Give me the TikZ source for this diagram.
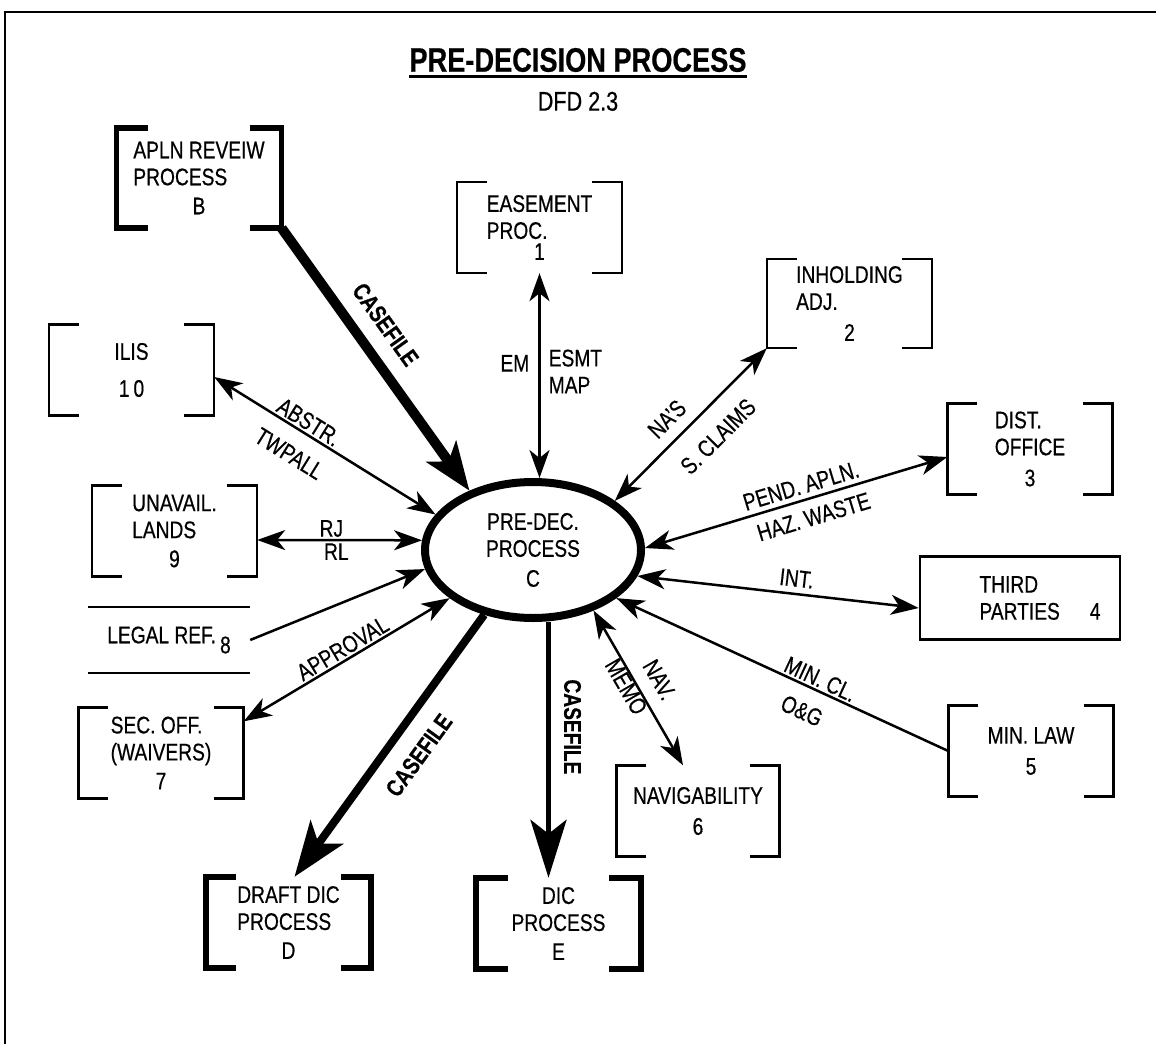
\documentclass[tikz,border=0pt]{standalone}
\usepackage{fontspec}
\setmainfont[FakeStretch=0.8, FakeBold=0.5]{Liberation Sans}
\usetikzlibrary{arrows.meta,positioning,shapes.geometric}

\newcommand{\dfdfont}{\fontsize{24}{27}\selectfont}
% bracket frame of an external entity: node, stub length
\newcommand{\brackets}[3][bk]{%
  \draw[#1] ([xshift=#3]#2.north west) -| (#2.south west) -- ++(#3,0);
  \draw[#1] ([xshift=-#3]#2.north east) -| (#2.south east) -- ++(-#3,0);}

\tikzset{
  box/.style={minimum width=165pt, minimum height=91pt, inner sep=0pt, align=left},
  bk/.style={line width=2.5pt},
  bkheavy/.style={line width=5.5pt},
  flow/.style={line width=2.5pt},
  tag/.style={inner sep=1pt},
  lab/.style={tag, sloped},
  heavy/.style={line width=10pt, -{Stealth[length=48pt,width=36pt,inset=12pt]}},
  heavyD/.style={line width=8pt, {Stealth[length=55pt,width=40pt,inset=14pt]}-},
  mid/.style={line width=5pt, -{Stealth[length=58pt,width=36pt,inset=14pt]}},
}

\begin{document}
\begin{tikzpicture}[x=1pt, y=-1pt, >={Stealth[length=28pt,width=20pt,inset=8pt]}, font=\dfdfont]
  \useasboundingbox (0,0) rectangle (1156,1044);
  % page frame
  \draw[line width=2.5pt] (5,1044) -- (5,12) -- (1156,12);

  % heading
  \node[font=\fontsize{34}{36}\selectfont\bfseries, inner sep=0pt] (title) at (578,60) {PRE-DECISION PROCESS};
  \draw[line width=3pt] ([yshift=-5pt]title.base west) -- ([yshift=-5pt]title.base east);
  \node[font=\fontsize{27}{29}\selectfont, below=16pt of title] (dfd) {DFD 2.3};

  % central process
  \node[draw, ellipse, line width=8pt, minimum width=216pt, minimum height=136pt, inner sep=0pt, align=center] (pre) at (533,550) {PRE-DEC.\\PROCESS\\[3pt]C};

  % entities round it
  \node[box, minimum height=100pt] (aplnB) at (199,178) {APLN REVEIW\\PROCESS\\[2pt]\hfil B};
  \node[box] (esmt1) at (539.5,227.5) {EASEMENT\\PROC.\\[-6pt]\hfil 1};
  \node[box, minimum height=89pt] (inhold2) at (849.5,303.5) {INHOLDING\\ADJ.\\[4pt]\hfil 2};
  \node[box] (dist3) at (1030,449) {DIST.\\OFFICE\\[4pt]\hfil 3};
  \node[box, draw, bk, minimum width=200pt, minimum height=83pt] (third4) at (1020,598) {\hspace*{40pt}THIRD\\\hspace*{40pt}PARTIES\hspace{30pt}4};
  \node[box] (minlaw5) at (1031,751) {MIN. LAW\\[4pt]\hfil 5};
  \node[box, minimum width=163pt] (navig6) at (698,811) {NAVIGABILITY\\[4pt]\hfil 6};
  \node[box] (secoff7) at (161,753) {SEC. OFF.\\(WAIVERS)\\[2pt]\hfil 7};
  \node[box, minimum width=162pt, minimum height=66pt] (legal8) at (169,640) {LEGAL REF.\,\raisebox{-10pt}{8}};
  \node[box] (unavail9) at (174.5,531) {UNAVAIL.\\LANDS\\[2pt]\hfil 9};
  \node[box, align=center] (ilis10) at (131.5,370) {ILIS\\[10pt]1\,0};
  \node[box] (draftD) at (288.5,922.5) {DRAFT DIC\\PROCESS\\[2pt]\hfil D};
  \node[box, align=center] (dicE) at (558.5,923.5) {DIC\\PROCESS\\[2pt]E};

  \brackets[bkheavy]{aplnB}{32pt}
  \brackets{esmt1}{30pt}
  \brackets{inhold2}{30pt}
  \brackets{dist3}{30pt}
  \brackets{minlaw5}{30pt}
  \brackets{navig6}{30pt}
  \brackets{secoff7}{30pt}
  \brackets{unavail9}{30pt}
  \brackets{ilis10}{30pt}
  \brackets[bkheavy]{draftD}{30pt}
  \brackets[bkheavy]{dicE}{32pt}
  \draw[bk] (legal8.north west) -- (legal8.north east);
  \draw[bk] (legal8.south west) -- (legal8.south east);

  % flows
  \draw[heavy] (aplnB.south east) -- (pre.137)
    node[lab, pos=0.43, above=14pt, font=\dfdfont\bfseries] (cf1) {CASEFILE};
  \draw[flow, <->] ([yshift=-7pt]ilis10.east) -- (pre.160)
    node[lab, pos=0.40, above=1pt] (abstr) {ABSTR.}
    node[lab, pos=0.40, below=15pt] (twpall) {TWPALL};
  \draw[flow, <->] (esmt1.south) -- (esmt1.south |- pre.north)
    node[tag, pos=0.44, left=8pt] (em) {EM}
    node[tag, pos=0.48, right=7pt, align=left] (esmtmap) {ESMT\\MAP};
  \draw[flow, <->] (pre.31) -- (inhold2.south west)
    node[lab, pos=0.44, above=10pt] (nas) {NA'S}
    node[lab, pos=0.55, below=17pt] (sclaims) {S. CLAIMS};
  \draw[flow, <->] (pre.1) -- ([yshift=-8pt]dist3.west)
    node[lab, pos=0.53, above=4pt] (pend) {PEND. APLN.}
    node[lab, pos=0.54, below=8pt] (haz) {HAZ. WASTE};
  \draw[flow, <->] (pre.-14) -- ([yshift=-10pt]third4.west)
    node[lab, pos=0.56, above=5pt] (int) {INT.};
  \draw[flow, <-] (pre.-30) -- (minlaw5.west)
    node[lab, pos=0.6, above=1pt] (mincl) {MIN. CL.}
    node[lab, pos=0.59, below=14pt] (og) {O\&G};
  \draw[flow, <->] (pre.-45) -- ([xshift=-15pt]navig6.north)
    node[lab, pos=0.52, above=12pt] (nav) {NAV.}
    node[lab, pos=0.46, below=-1pt] (memo) {MEMO};
  \draw[mid] ([xshift=-10pt]dicE.north |- pre.south) -- ([xshift=-10pt]dicE.north)
    node[tag, pos=0.41, xshift=24pt, rotate=-90, font=\dfdfont\bfseries] (cf3) {CASEFILE};
  \draw[heavyD] ([xshift=6pt]draftD.north) -- (pre.233)
    node[lab, pos=0.53, below=16pt, font=\dfdfont\bfseries] (cf2) {CASEFILE};
  \draw[flow, <->] ([yshift=-14pt]secoff7.north east) -- (pre.210)
    node[lab, pos=0.51, above=1pt] (appr) {APPROVAL};
  \draw[flow, ->] (legal8.east) -- (pre.190);
  \draw[flow, <->] ([yshift=-9pt]unavail9.east) -- (pre.175)
    node[tag, pos=0.45, above=1pt] (rj) {RJ}
    node[tag, pos=0.48, below=1pt] (rl) {RL};
\end{tikzpicture}
\end{document}
